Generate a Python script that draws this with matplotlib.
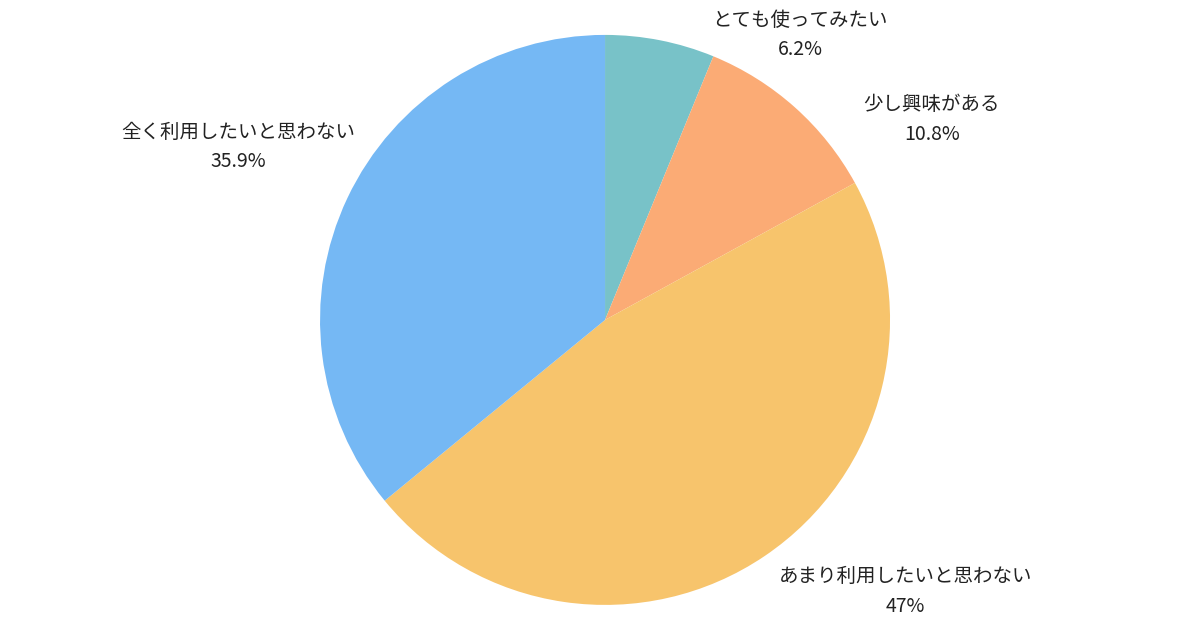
import matplotlib
matplotlib.use("Agg")
import matplotlib.pyplot as plt

plt.rcParams['font.family'] = ['Noto Sans CJK JP', 'DejaVu Sans']

# data
labels = ["とても使ってみたい", "少し興味がある", "あまり利用したいと思わない", "全く利用したいと思わない"]
values = [6.2, 10.8, 47, 35.9]
pct_text = ["6.2%", "10.8%", "47%", "35.9%"]
colors = ["#78C2C8", "#FBAB75", "#F7C46C", "#75B8F4"]

# label spots (axes units, pie radius = 1)
label_pos = [(0.684, 1.0), (1.147, 0.702), (1.053, -0.954), (-1.288, 0.607)]

fig = plt.figure(figsize=(12, 6.3), dpi=100)
ax = fig.add_axes([0.2667, 0.0397, 0.475, 0.905])

wedges, texts = ax.pie(values, colors=colors, startangle=90, counterclock=False,
                       labels=[l + "\n" + p for l, p in zip(labels, pct_text)],
                       wedgeprops=dict(linewidth=0))

for t, (x, y) in zip(texts, label_pos):
    t.set_position((x, y))
    t.set_ha("center")
    t.set_va("center")
    t.set_fontsize(14)
    t.set_color("#222222")
    t.set_linespacing(1.55)

ax.set_xlim(-1, 1)
ax.set_ylim(-1, 1)
ax.set_aspect("equal")
ax.axis("off")

fig.savefig("out.png", dpi=100)
